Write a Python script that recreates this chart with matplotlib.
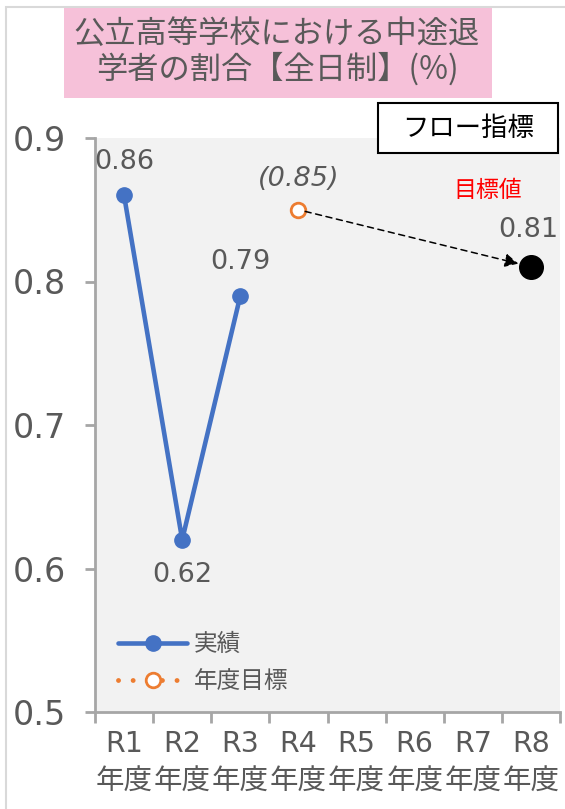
import matplotlib
matplotlib.use("Agg")
import matplotlib.pyplot as plt
from matplotlib.patches import Rectangle
from matplotlib.lines import Line2D

plt.rcParams['font.family'] = ['DejaVu Sans', 'Noto Sans CJK JP']
CJK = ['Noto Sans CJK JP', 'DejaVu Sans']

categories = ["R1\n年度", "R2\n年度", "R3\n年度", "R4\n年度", "R5\n年度", "R6\n年度", "R7\n年度", "R8\n年度"]
actual_idx = [0, 1, 2]
actual_vals = [0.86, 0.62, 0.79]
target_idx = [3]
target_vals = [0.85]
goal_idx = 7
goal_val = 0.81
yticks = [0.5, 0.6, 0.7, 0.8, 0.9]
title_text = "公立高等学校における中途退\n学者の割合【全日制】(%)"

W, H = 565, 809
fig = plt.figure(figsize=(W / 100, H / 100), dpi=100)

# outer light border
fig.patches.append(Rectangle((6 / W, -0.1), 1.2, 1 - 7 / H + 0.1, transform=fig.transFigure,
                             facecolor='none', edgecolor='#d9d9d9', linewidth=1.5))

ax = fig.add_axes([95 / W, (H - 712) / H, (560 - 95) / W, (712 - 138) / H])
ax.set_facecolor('#f2f2f2')
ax.set_xlim(-0.5, 7.5)
ax.set_ylim(0.5, 0.9)

gray = '#595959'
sp = '#a6a6a6'
for s in ['top', 'right']:
    ax.spines[s].set_visible(False)
for s in ['left', 'bottom']:
    ax.spines[s].set_color(sp)
    ax.spines[s].set_linewidth(2)

ax.set_yticks(yticks)
ax.set_yticklabels([f"{v:.1f}" for v in yticks], fontsize=24, color=gray)
ax.tick_params(axis='y', length=7, width=2, color=sp, pad=14)
ax.set_xticks([i + 0.5 for i in range(-1, 8)], minor=False)
ax.set_xticklabels([])
ax.set_xticks(range(8), minor=True)
ax.set_xticklabels(categories, minor=True, fontsize=20.5, color=gray, linespacing=1.45,
                   va='top')
ax.tick_params(axis='x', which='major', length=8, width=2, color=sp)
ax.tick_params(axis='x', which='minor', length=0, pad=13)

ax.plot(actual_idx, actual_vals, color='#4472c4', linewidth=3.3, marker='o', markersize=11,
        solid_capstyle='round', zorder=3)
ax.plot(target_idx, target_vals, linestyle=':', color='#ed7d31', marker='o', markersize=10.5,
        markerfacecolor='white', markeredgecolor='#ed7d31', markeredgewidth=2, zorder=3)
ax.plot([goal_idx], [goal_val], marker='o', color='black', markersize=17, zorder=4)

ax.annotate('', xy=(goal_idx - 0.17, goal_val + 0.002), xytext=(target_idx[0], target_vals[0]),
            arrowprops=dict(arrowstyle='-|>', linestyle=(0, (4, 3)), color='black', lw=1.1,
                            mutation_scale=20, shrinkA=5, shrinkB=2), zorder=3)

# data labels
lab = dict(textcoords='offset points', ha='center', va='center', fontsize=19.5, color=gray)
ax.annotate(f"{actual_vals[0]:.2f}", (actual_idx[0], actual_vals[0]), xytext=(0, 24), **lab)
ax.annotate(f"{actual_vals[1]:.2f}", (actual_idx[1], actual_vals[1]), xytext=(0, -25), **lab)
ax.annotate(f"{actual_vals[2]:.2f}", (actual_idx[2], actual_vals[2]), xytext=(0, 24.5), **lab)
ax.annotate(f"({target_vals[0]:.2f})", (target_idx[0], target_vals[0]), xytext=(0, 22),
            style='italic', **lab)
ax.annotate(f"{goal_val:.2f}", (goal_idx, goal_val), xytext=(-2, 27), **lab)
ax.annotate("目標値", (goal_idx, goal_val), xytext=(-31, 55),
            textcoords='offset points', ha='center', va='center', fontsize=16.5, color='#ff0000',
            family=CJK)

# legend
handles = [Line2D([], [], color='#4472c4', linewidth=3.3, marker='o', markersize=11,
                  solid_capstyle='round'),
           Line2D([], [], color='#ed7d31', linestyle=(0, (0.01, 3.0)), linewidth=3.5,
                  dash_capstyle='round', marker='o', markersize=10.5,
                  markerfacecolor='white', markeredgewidth=2)]
leg = ax.legend(handles, ["実績", "年度目標"], loc='lower left', bbox_to_anchor=(0.03, 0.016),
                frameon=False, prop={'family': CJK, 'size': 17}, handlelength=2.9,
                labelspacing=0.6, handletextpad=0.3, borderaxespad=0)
for t in leg.get_texts():
    t.set_color(gray)

# title box
fig.patches.append(Rectangle((64 / W, 1 - 98 / H), (492 - 64) / W, 90 / H, transform=fig.transFigure,
                             facecolor='#f6c1d9', edgecolor='none'))
fig.text(277 / W, 1 - 52 / H, title_text, ha='center', va='center', fontsize=22.5, color=gray,
         linespacing=1.1, family=CJK)

# フロー指標 box
fig.patches.append(Rectangle((378 / W, 1 - 153 / H), (558 - 378) / W, 50 / H, transform=fig.transFigure,
                             facecolor='white', edgecolor='black', linewidth=1.5, zorder=5))
fig.text(468 / W, 1 - 128 / H, "フロー指標", ha='center', va='center', fontsize=19, color='black',
         zorder=6, family=CJK)

fig.savefig('out.png', dpi=100)
